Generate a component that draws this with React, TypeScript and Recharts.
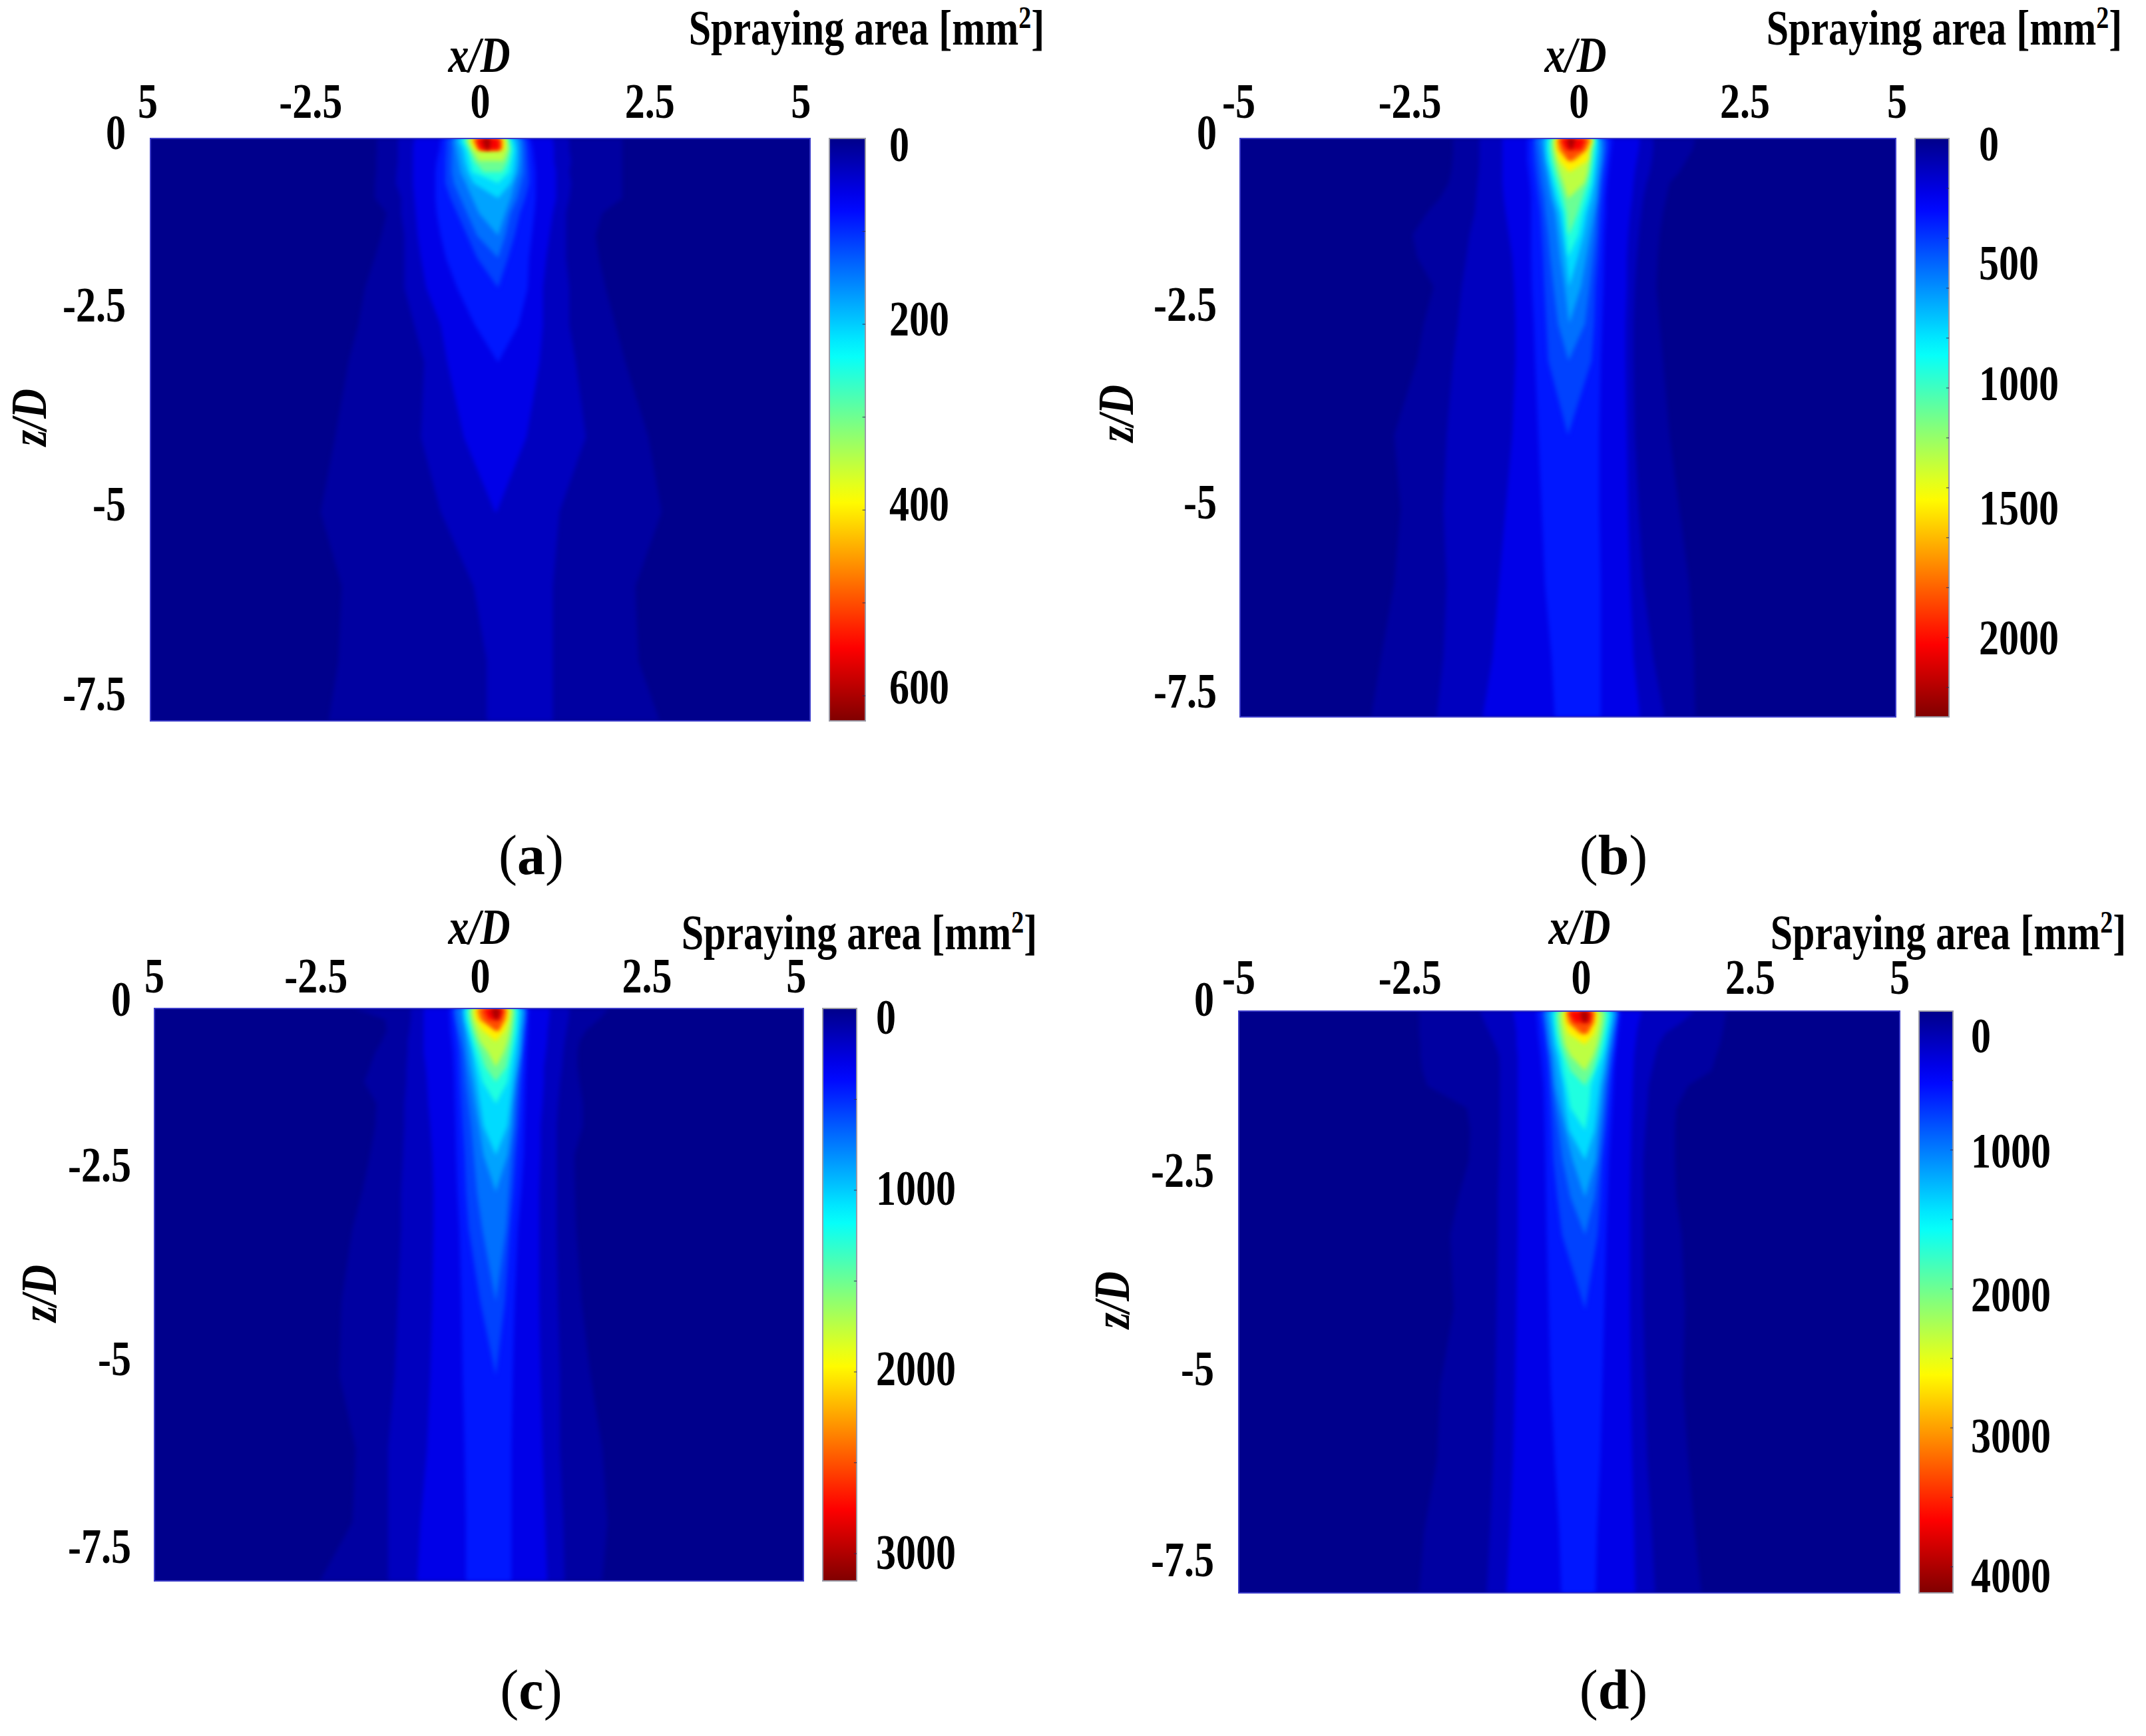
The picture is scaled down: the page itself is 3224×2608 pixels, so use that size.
import { Area, ComposedChart, ReferenceArea, ReferenceLine, XAxis, YAxis } from "recharts";

// contour levels as a fraction of each panel's colour scale
const contourLevels = [0.02, 0.045, 0.08, 0.125, 0.17, 0.21, 0.26, 0.31, 0.37, 0.44, 0.52, 0.6, 0.68, 0.76, 0.84, 0.92];
const zRows = [0, -0.15, -0.3, -0.45, -0.6, -0.8, -1, -1.3, -1.6, -2, -2.5, -3, -4, -5, -6, -7, -7.8];

// left and right x/D edge of every contour, one inner list per level, read along zRows
const aLeft = [
  [-1.57, -1.57, -1.58, -1.58, -1.6, -1.6, -1.42, -1.5, -1.6, -1.75, -1.85, -2, -2.2, -2.42, -2.1, -2.15, -2.3],
  [-1.25, -1.25, -1.25, -1.27, -1.28, -1.2, -1.2, -1.15, -1.15, -1.15, -1, -0.85, -0.9, -0.6, -0.1, 0.1, 0.1],
  [-1, -1.02, -1.02, -1.02, -1.02, -1, -0.98, -0.95, -0.9, -0.82, -0.6, -0.5, -0.25, 0.22],
  [-0.6, -0.62, -0.66, -0.68, -0.68, -0.68, -0.66, -0.6, -0.52, -0.35, -0.08, 0.27],
  [-0.52, -0.52, -0.53, -0.53, -0.53, -0.45, -0.35, -0.2, -0.05, 0.27],
  [-0.44, -0.43, -0.43, -0.43, -0.4, -0.3, -0.2, -0.05, 0.27],
  [-0.39, -0.36, -0.33, -0.3, -0.22, -0.12, -0.02, 0.27],
  [-0.34, -0.27, -0.24, -0.19, -0.1, 0.27],
  [-0.29, -0.2, -0.16, -0.12, 0.27],
  [-0.24, -0.16, -0.1, 0.05],
  [-0.2, -0.13, -0.02],
  [-0.16, -0.08],
  [-0.13, -0.04],
  [-0.09, -0.02],
  [-0.06, 0],
  [0.02, 0.08],
];
const aRight = [
  [2.15, 2.15, 2.15, 2.15, 2.15, 2.15, 1.85, 1.75, 1.8, 1.9, 2.05, 2.2, 2.55, 2.75, 2.35, 2.4, 2.72],
  [1.35, 1.35, 1.38, 1.35, 1.38, 1.35, 1.3, 1.3, 1.3, 1.35, 1.35, 1.45, 1.6, 1.2, 1.1, 1.1, 1.1],
  [1.1, 1.12, 1.12, 1.15, 1.15, 1.15, 1.1, 1.05, 1, 0.95, 0.95, 0.9, 0.7, 0.25],
  [0.76, 0.8, 0.82, 0.84, 0.84, 0.84, 0.82, 0.78, 0.74, 0.72, 0.58, 0.27],
  [0.7, 0.72, 0.73, 0.74, 0.74, 0.68, 0.6, 0.52, 0.42, 0.27],
  [0.64, 0.66, 0.66, 0.66, 0.62, 0.56, 0.46, 0.38, 0.27],
  [0.59, 0.6, 0.6, 0.58, 0.52, 0.46, 0.38, 0.27],
  [0.52, 0.55, 0.54, 0.52, 0.46, 0.27],
  [0.46, 0.5, 0.47, 0.44, 0.27],
  [0.43, 0.45, 0.42, 0.33],
  [0.4, 0.42, 0.35],
  [0.37, 0.36],
  [0.34, 0.33],
  [0.31, 0.31],
  [0.28, 0.29],
  [0.16, 0.14],
];

const bLeft = [
  [-1.75, -1.75, -1.76, -1.78, -1.82, -1.95, -2.15, -2.37, -2.3, -2.05, -2.2, -2.3, -2.65, -2.55, -2.65, -2.85, -3],
  [-1.35, -1.35, -1.35, -1.36, -1.38, -1.4, -1.42, -1.5, -1.55, -1.62, -1.68, -1.75, -1.85, -1.9, -1.85, -1.9, -2],
  [-1, -1, -1, -1, -1, -0.98, -0.95, -0.9, -0.85, -0.82, -0.8, -0.8, -0.85, -0.95, -1.05, -1.15, -1.3],
  [-0.62, -0.62, -0.62, -0.6, -0.58, -0.56, -0.56, -0.56, -0.56, -0.55, -0.52, -0.5, -0.45, -0.4, -0.35, -0.25, -0.2],
  [-0.53, -0.53, -0.52, -0.5, -0.48, -0.45, -0.42, -0.4, -0.38, -0.36, -0.33, -0.3, 0],
  [-0.48, -0.46, -0.44, -0.42, -0.4, -0.36, -0.34, -0.3, -0.27, -0.22, -0.15, 0.01],
  [-0.4, -0.38, -0.36, -0.33, -0.3, -0.26, -0.2, -0.16, -0.12, -0.05, 0.02],
  [-0.34, -0.34, -0.32, -0.28, -0.25, -0.2, -0.13, -0.08, -0.03, 0.02],
  [-0.3, -0.3, -0.28, -0.24, -0.2, -0.14, -0.07, -0.03, 0.01],
  [-0.26, -0.26, -0.23, -0.19, -0.14, -0.07, -0.02, 0.01],
  [-0.22, -0.21, -0.18, -0.13, -0.07, 0],
  [-0.19, -0.18, -0.13, 0.01],
  [-0.17, -0.15, 0],
  [-0.14, -0.1, 0.02],
  [-0.11, -0.03],
  [-0.02, 0.03],
];
const bRight = [
  [1.94, 1.9, 1.8, 1.7, 1.55, 1.5, 1.45, 1.4, 1.37, 1.35, 1.4, 1.45, 1.55, 1.7, 1.85, 1.92, 1.94],
  [1.3, 1.3, 1.28, 1.25, 1.2, 1.15, 1.12, 1.08, 1.05, 1.02, 1, 1, 1.02, 1.08, 1.15, 1.3, 1.47],
  [1.1, 1.08, 1.05, 1.02, 1, 0.98, 0.95, 0.92, 0.9, 0.9, 0.88, 0.88, 0.9, 0.92, 0.95, 1, 1.1],
  [0.68, 0.66, 0.64, 0.62, 0.6, 0.58, 0.58, 0.56, 0.55, 0.54, 0.52, 0.5, 0.48, 0.48, 0.5, 0.5, 0.5],
  [0.6, 0.6, 0.58, 0.56, 0.54, 0.52, 0.5, 0.48, 0.46, 0.42, 0.4, 0.36, 0],
  [0.55, 0.55, 0.53, 0.5, 0.48, 0.46, 0.44, 0.42, 0.38, 0.33, 0.26, 0.01],
  [0.5, 0.51, 0.5, 0.48, 0.46, 0.44, 0.4, 0.34, 0.28, 0.2, 0.02],
  [0.46, 0.46, 0.44, 0.42, 0.4, 0.36, 0.3, 0.24, 0.15, 0.02],
  [0.43, 0.42, 0.4, 0.38, 0.36, 0.3, 0.23, 0.16, 0.01],
  [0.41, 0.38, 0.36, 0.33, 0.3, 0.22, 0.15, 0.02],
  [0.39, 0.34, 0.32, 0.3, 0.25, 0.02],
  [0.37, 0.32, 0.3, 0.03],
  [0.35, 0.29, 0.1],
  [0.33, 0.26, 0.04],
  [0.27, 0.2],
  [0.12, 0.06],
];

const cLeft = [
  [-1.92, -1.45, -1.42, -1.5, -1.6, -1.68, -1.77, -1.58, -1.6, -1.68, -1.8, -1.95, -2.12, -2.15, -1.9, -1.95, -2.45],
  [-1.05, -1.05, -1.07, -1.1, -1.1, -1.12, -1.12, -1.15, -1.15, -1.17, -1.2, -1.2, -1.25, -1.3, -1.4, -1.4, -1.4],
  [-0.85, -0.85, -0.85, -0.85, -0.85, -0.82, -0.8, -0.78, -0.75, -0.72, -0.7, -0.7, -0.72, -0.75, -0.8, -0.9, -0.95],
  [-0.46, -0.45, -0.44, -0.42, -0.4, -0.39, -0.38, -0.37, -0.36, -0.35, -0.33, -0.3, -0.27, -0.25, -0.22, -0.2, -0.2],
  [-0.4, -0.38, -0.35, -0.33, -0.31, -0.3, -0.29, -0.27, -0.25, -0.22, -0.2, -0.16, 0.02, 0.26],
  [-0.36, -0.34, -0.31, -0.27, -0.24, -0.22, -0.2, -0.16, -0.12, -0.08, -0.03, 0.05, 0.26],
  [-0.27, -0.25, -0.22, -0.2, -0.18, -0.15, -0.11, -0.06, 0, 0.07, 0.26],
  [-0.23, -0.22, -0.18, -0.14, -0.1, -0.07, -0.03, 0.02, 0.07, 0.26],
  [-0.2, -0.18, -0.14, -0.1, -0.06, 0, 0.06, 0.26],
  [-0.16, -0.14, -0.1, -0.05, 0.02, 0.1, 0.26],
  [-0.12, -0.1, -0.05, 0.02, 0.14, 0.26],
  [-0.08, -0.05, 0.05, 0.26],
  [-0.04, 0, 0.26],
  [0, 0.05, 0.26],
  [0.07, 0.15],
  [0.18, 0.24],
];
const cRight = [
  [2, 1.85, 1.65, 1.55, 1.52, 1.52, 1.55, 1.6, 1.6, 1.47, 1.48, 1.5, 1.58, 1.72, 1.9, 1.98, 1.9],
  [1.4, 1.38, 1.35, 1.32, 1.3, 1.28, 1.25, 1.22, 1.2, 1.2, 1.2, 1.2, 1.22, 1.25, 1.25, 1.3, 1.32],
  [1.1, 1.08, 1.06, 1.05, 1.03, 1, 1, 0.98, 0.95, 0.95, 0.93, 0.93, 0.93, 0.95, 0.98, 1.02, 1.05],
  [0.78, 0.76, 0.76, 0.75, 0.74, 0.73, 0.72, 0.71, 0.7, 0.69, 0.65, 0.6, 0.55, 0.52, 0.5, 0.5, 0.5],
  [0.73, 0.73, 0.71, 0.7, 0.68, 0.67, 0.65, 0.63, 0.61, 0.57, 0.53, 0.48, 0.4, 0.26],
  [0.71, 0.7, 0.68, 0.66, 0.64, 0.62, 0.6, 0.57, 0.55, 0.5, 0.46, 0.42, 0.26],
  [0.69, 0.68, 0.66, 0.65, 0.64, 0.6, 0.56, 0.52, 0.5, 0.44, 0.26],
  [0.64, 0.63, 0.61, 0.6, 0.58, 0.55, 0.52, 0.48, 0.44, 0.26],
  [0.6, 0.59, 0.58, 0.55, 0.52, 0.48, 0.44, 0.26],
  [0.55, 0.54, 0.52, 0.5, 0.47, 0.42, 0.26],
  [0.52, 0.5, 0.48, 0.44, 0.38, 0.26],
  [0.47, 0.45, 0.4, 0.26],
  [0.44, 0.42, 0.3],
  [0.41, 0.38, 0.3],
  [0.38, 0.32],
  [0.33, 0.3],
];

const dLeft = [
  [-2.27, -2.27, -2.27, -2.25, -2.25, -2.22, -2.15, -1.55, -1.5, -1.52, -1.68, -1.8, -1.75, -1.95, -2, -2.2, -2.27],
  [-1.35, -1.28, -1.2, -1.12, -1.06, -1.05, -1.05, -1.05, -1.05, -1.06, -1.08, -1.08, -1.1, -1.12, -1.15, -1.2, -1.25],
  [-0.85, -0.82, -0.8, -0.8, -0.78, -0.78, -0.78, -0.78, -0.78, -0.78, -0.78, -0.78, -0.8, -0.82, -0.85, -0.9, -0.95],
  [-0.5, -0.48, -0.47, -0.45, -0.43, -0.41, -0.39, -0.38, -0.37, -0.36, -0.35, -0.34, -0.31, -0.28, -0.22, -0.15, -0.12],
  [-0.42, -0.4, -0.37, -0.35, -0.33, -0.31, -0.3, -0.28, -0.26, -0.24, -0.18, -0.11, 0.24],
  [-0.38, -0.36, -0.34, -0.32, -0.29, -0.27, -0.25, -0.21, -0.16, -0.1, 0.02, 0.24],
  [-0.34, -0.32, -0.3, -0.28, -0.25, -0.23, -0.21, -0.14, -0.06, 0.05, 0.24],
  [-0.28, -0.26, -0.24, -0.22, -0.18, -0.14, -0.1, -0.06, 0, 0.24],
  [-0.23, -0.22, -0.2, -0.17, -0.12, -0.09, -0.04, 0.02, 0.24],
  [-0.19, -0.18, -0.16, -0.12, -0.07, 0.02, 0.24],
  [-0.14, -0.13, -0.1, -0.06, 0.02, 0.24],
  [-0.08, -0.07, -0.02, 0.24],
  [-0.05, -0.03, 0.15],
  [-0.03, 0.02, 0.2],
  [-0.01, 0.08],
  [0.16, 0.2],
];
const dRight = [
  [2.37, 2.35, 2.32, 2.28, 2.22, 2.15, 1.8, 1.62, 1.6, 1.6, 1.62, 1.7, 1.75, 1.72, 1.8, 1.9, 2],
  [1.9, 1.7, 1.45, 1.35, 1.3, 1.25, 1.2, 1.18, 1.15, 1.12, 1.12, 1.12, 1.12, 1.15, 1.18, 1.25, 1.3],
  [1.1, 1.05, 1.02, 1, 0.98, 0.97, 0.96, 0.95, 0.94, 0.93, 0.92, 0.92, 0.92, 0.93, 0.95, 0.98, 1],
  [0.78, 0.76, 0.74, 0.72, 0.7, 0.68, 0.67, 0.65, 0.63, 0.6, 0.58, 0.56, 0.53, 0.5, 0.47, 0.42, 0.4],
  [0.74, 0.72, 0.7, 0.68, 0.66, 0.63, 0.61, 0.58, 0.55, 0.5, 0.47, 0.43, 0.24],
  [0.72, 0.7, 0.67, 0.65, 0.62, 0.59, 0.56, 0.53, 0.5, 0.45, 0.38, 0.24],
  [0.7, 0.67, 0.64, 0.61, 0.58, 0.55, 0.51, 0.48, 0.44, 0.4, 0.24],
  [0.65, 0.63, 0.6, 0.57, 0.54, 0.5, 0.46, 0.42, 0.38, 0.24],
  [0.61, 0.59, 0.56, 0.53, 0.49, 0.4, 0.33, 0.3, 0.24],
  [0.56, 0.54, 0.51, 0.47, 0.43, 0.36, 0.24],
  [0.5, 0.49, 0.46, 0.42, 0.36, 0.24],
  [0.43, 0.42, 0.38, 0.24],
  [0.4, 0.38, 0.28],
  [0.37, 0.35, 0.26],
  [0.33, 0.31],
  [0.29, 0.28],
];

// tick labels and the places they sit at in the figure (they are not quite on the axis values)
const zLabels = ["0", "-2.5", "-5", "-7.5"];
const aXLabels = ["5", "-2.5", "0", "2.5", "5"];
const bXLabels = ["-5", "-2.5", "0", "2.5", "5"];
const aXTicks = [-5.04, -2.57, 0, 2.57, 4.86];
const bXTicks = [-5.02, -2.41, 0.17, 2.7, 5.02];
const cXTicks = [-5, -2.51, 0.02, 2.59, 4.89];
const dXTicks = [-5, -2.41, 0.18, 2.74, 5];
const aZTicks = [0.08, -2.23, -4.89, -7.43];
const bZTicks = [0.08, -2.23, -4.9, -7.45];
const cZTicks = [0.13, -2.13, -4.77, -7.33];
const dZTicks = [0.16, -2.13, -4.79, -7.35];

const aBarLabels = ["0", "200", "400", "600"];
const aBarLabelAt = [6, 194, 393, 590];
const aBarTicks = [100, 200, 300, 400, 500, 600];
const bBarLabels = ["0", "500", "1000", "1500", "2000"];
const bBarLabelAt = [21, 499, 982, 1480, 2000];
const bBarTicks = [200, 400, 600, 800, 1000, 1200, 1400, 1600, 1800, 2000, 2200];
const cBarLabels = ["0", "1000", "2000", "3000"];
const cBarLabelAt = [48, 990, 1982, 2992];
const cBarTicks = [500, 1000, 1500, 2000, 2500, 3000];
const dBarLabels = ["0", "1000", "2000", "3000", "4000"];
const dBarLabelAt = [177, 1006, 2041, 3057, 4063];
const dBarTicks = [500, 1000, 1500, 2000, 2500, 3000, 3500, 4000];

const SERIF = '"Liberation Serif", serif';
const FIELD = "#00008c";

function jet(t: number) {
  const c = (v: number) => Math.round(255 * Math.max(0, Math.min(1, v)));
  const r = c(1.5 - Math.abs(4 * t - 3));
  const g = c(1.5 - Math.abs(4 * t - 2));
  const b = c(1.5 - Math.abs(4 * t - 1));
  return `rgb(${r},${g},${b})`;
}

function bandColor(k: number) {
  const next = k + 1 < contourLevels.length ? contourLevels[k + 1] : 1;
  return jet((contourLevels[k] + next) / 2);
}

const stretched = (labels: string[], anchor: string, size: number) => (props: any) => {
  const { x, y, index } = props;
  return (
    <text
      transform={`translate(${x},${y}) scale(1,1.22)`}
      textAnchor={anchor}
      dominantBaseline="central"
      fontFamily={SERIF}
      fontWeight="bold"
      fontSize={size}
      fill="#000"
    >
      {labels[index]}
    </text>
  );
};

function Caption({ x, y, rotate, italic, bold = true, size, scaleY = 1.22, children }: any) {
  return (
    <div
      style={{
        position: "absolute",
        left: x,
        top: y,
        transform: `translate(-50%,-50%) ${rotate ? "rotate(-90deg)" : ""} scale(1,${scaleY})`,
        fontFamily: SERIF,
        fontWeight: bold ? "bold" : "normal",
        fontStyle: italic ? "italic" : "normal",
        fontSize: size,
        lineHeight: 1,
        whiteSpace: "nowrap",
        color: "#000",
      }}
    >
      {children}
    </div>
  );
}

function ContourField({ box, left, right, xTicks, xLabels, zTicks, xGap, zGap }: any) {
  const rows = zRows.map((z, i) => {
    const row: any = { z };
    left.forEach((edge: number[], k: number) => {
      if (i < edge.length) row[`l${k}`] = [edge[i], right[k][i]];
    });
    return row;
  });
  const axisW = 170;
  const axisH = 110;
  const rightPad = 40;
  return (
    <div className="field" style={{ position: "absolute", left: box.x0 - axisW, top: box.y0 - axisH }}>
      <ComposedChart
        width={box.x1 - box.x0 + axisW + rightPad}
        height={box.y1 - box.y0 + axisH}
        layout="vertical"
        data={rows}
        margin={{ top: 0, right: rightPad, bottom: 0, left: 0 }}
      >
        <XAxis
          type="number"
          orientation="top"
          domain={[-5, 5]}
          ticks={xTicks}
          interval={0}
          height={axisH}
          axisLine={false}
          tickLine={false}
          tickSize={xGap}
          tickMargin={0}
          tick={stretched(xLabels, "middle", 60)}
          allowDataOverflow
        />
        <YAxis
          type="number"
          dataKey="z"
          reversed
          domain={[-7.8, 0]}
          ticks={zTicks}
          interval={0}
          width={axisW}
          axisLine={false}
          tickLine={false}
          tickSize={zGap}
          tickMargin={0}
          tick={stretched(zLabels, "end", 60)}
          allowDataOverflow
        />
        <ReferenceArea x1={-5} x2={5} y1={-7.8} y2={0} fill={FIELD} fillOpacity={1} stroke="none" />
        {contourLevels.map((_, k) => (
          <Area
            key={k}
            dataKey={`l${k}`}
            type="linear"
            fill={bandColor(k)}
            fillOpacity={1}
            stroke="none"
            dot={false}
            activeDot={false}
            isAnimationActive={false}
          />
        ))}
        <ReferenceArea x1={-5} x2={5} y1={-7.8} y2={0} fill="none" stroke="#3c3cc8" strokeWidth={2} />
      </ComposedChart>
    </div>
  );
}

function ColorBar({ id, box, max, ticks, labels, labelAt, gap }: any) {
  const bar = [
    { v: 0, span: [0, 1] },
    { v: max, span: [0, 1] },
  ];
  const stops = Array.from({ length: 33 }, (_, i) => i / 32);
  const labelW = 200;
  return (
    <div style={{ position: "absolute", left: box.x0, top: box.y0 }}>
      <ComposedChart
        width={box.x1 - box.x0 + labelW}
        height={box.y1 - box.y0}
        layout="vertical"
        data={bar}
        margin={{ top: 0, right: 0, bottom: 0, left: 0 }}
      >
        <defs>
          <linearGradient id={id} x1="0" y1="0" x2="0" y2="1">
            {stops.map((t) => (
              <stop key={t} offset={t} stopColor={jet(0.01 + t * 0.99)} />
            ))}
          </linearGradient>
        </defs>
        <XAxis type="number" domain={[0, 1]} hide />
        <YAxis
          type="number"
          dataKey="v"
          orientation="right"
          domain={[0, max]}
          ticks={labelAt}
          interval={0}
          width={labelW}
          axisLine={false}
          tickLine={false}
          tickSize={gap}
          tickMargin={0}
          tick={stretched(labels, "start", 60)}
        />
        <Area dataKey="span" type="linear" fill={`url(#${id})`} fillOpacity={1} stroke="none" dot={false} activeDot={false} isAnimationActive={false} />
        {ticks.map((v: number) => (
          <ReferenceLine
            key={v}
            segment={[
              { x: 0.92, y: v },
              { x: 1, y: v },
            ]}
            stroke="#30305a"
          />
        ))}
        <ReferenceArea x1={0} x2={1} y1={0} y2={max} fill="none" stroke="#9a9aa6" strokeWidth={2} />
      </ComposedChart>
    </div>
  );
}

const Title = ({ x, y }: { x: number; y: number }) => (
  <Caption x={x} y={y} size={60}>
    Spraying area [mm<sup style={{ fontSize: 38, lineHeight: 0 }}>2</sup>]
  </Caption>
);

const PanelTag = ({ x, y, letter }: { x: number; y: number; letter: string }) => (
  <Caption x={x} y={y} size={84} bold={false} scaleY={1}>
    (<b>{letter}</b>)
  </Caption>
);

export default function App() {
  return (
    <div style={{ position: "absolute", left: 0, top: 0, width: 3224, height: 2608, background: "#fff", overflow: "hidden" }}>
      <style>{`.field .recharts-area-area { filter: blur(3px); } .recharts-surface { overflow: visible; }`}</style>
      <ContourField box={{ x0: 226, x1: 1217, y0: 208, y1: 1083 }} left={aLeft} right={aRight} xTicks={aXTicks} xLabels={aXLabels} zTicks={aZTicks} xGap={56} zGap={37} />
      <ColorBar id="barA" box={{ x0: 1246, x1: 1300, y0: 208, y1: 1083 }} max={627} ticks={aBarTicks} labels={aBarLabels} labelAt={aBarLabelAt} gap={36} />
      <Title x={1302} y={43} />
      <Caption x={720} y={82} size={62} italic>x/D</Caption>
      <Caption x={43} y={627} size={62} italic rotate>z/D</Caption>
      <PanelTag x={798} y={1285} letter="a" />

      <ContourField box={{ x0: 1863, x1: 2848, y0: 208, y1: 1077 }} left={bLeft} right={bRight} xTicks={bXTicks} xLabels={bXLabels} zTicks={bZTicks} xGap={56} zGap={35} />
      <ColorBar id="barB" box={{ x0: 2877, x1: 2928, y0: 208, y1: 1077 }} max={2318} ticks={bBarTicks} labels={bBarLabels} labelAt={bBarLabelAt} gap={45} />
      <Title x={2921} y={43} />
      <Caption x={2367} y={82} size={62} italic>x/D</Caption>
      <Caption x={1676} y={621} size={62} italic rotate>z/D</Caption>
      <PanelTag x={2424} y={1285} letter="b" />

      <ContourField box={{ x0: 232, x1: 1207, y0: 1515, y1: 2375 }} left={cLeft} right={cRight} xTicks={cXTicks} xLabels={aXLabels} zTicks={cZTicks} xGap={49} zGap={35} />
      <ColorBar id="barC" box={{ x0: 1236, x1: 1287, y0: 1515, y1: 2375 }} max={3150} ticks={cBarTicks} labels={cBarLabels} labelAt={cBarLabelAt} gap={29} />
      <Title x={1291} y={1402} />
      <Caption x={720} y={1392} size={62} italic>x/D</Caption>
      <Caption x={58} y={1943} size={62} italic rotate>z/D</Caption>
      <PanelTag x={798} y={2539} letter="c" />

      <ContourField box={{ x0: 1861, x1: 2854, y0: 1519, y1: 2393 }} left={dLeft} right={dRight} xTicks={dXTicks} xLabels={bXLabels} zTicks={dZTicks} xGap={51} zGap={37} />
      <ColorBar id="barD" box={{ x0: 2883, x1: 2934, y0: 1519, y1: 2393 }} max={4188} ticks={dBarTicks} labels={dBarLabels} labelAt={dBarLabelAt} gap={27} />
      <Title x={2927} y={1402} />
      <Caption x={2373} y={1392} size={62} italic>x/D</Caption>
      <Caption x={1670} y={1953} size={62} italic rotate>z/D</Caption>
      <PanelTag x={2424} y={2539} letter="d" />
    </div>
  );
}
